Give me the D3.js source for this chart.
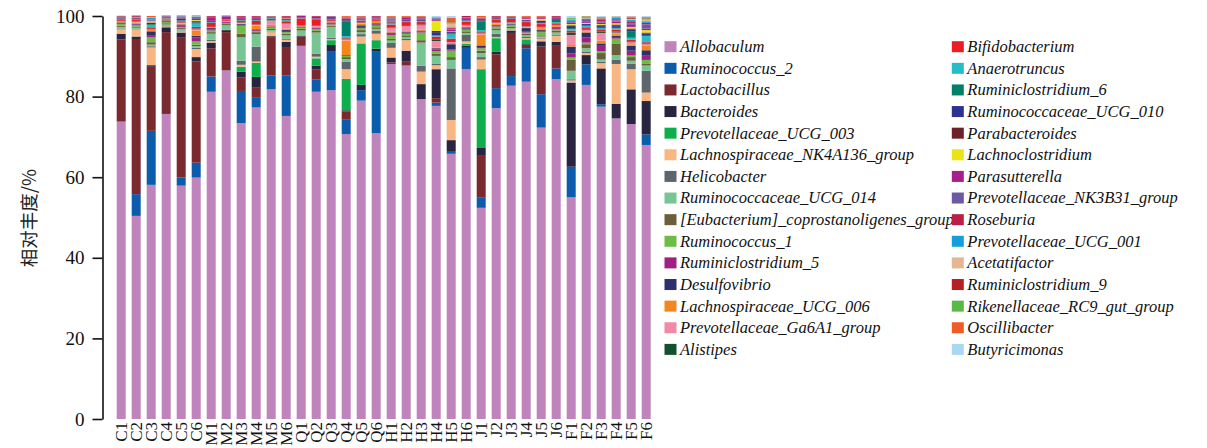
<!DOCTYPE html>
<html>
<head>
<meta charset="utf-8">
<script src="https://cdn.jsdelivr.net/npm/d3@7"></script>
<style>
  html, body { margin: 0; padding: 0; background: #fff; }
  svg { display: block; }
</style>
</head>
<body>
<svg id="chart" width="1207" height="448"></svg>
<script>
const samples = ["C1","C2","C3","C4","C5","C6","M1","M2","M3","M4","M5","M6",
  "Q1","Q2","Q3","Q4","Q5","Q6","H1","H2","H3","H4","H5","H6",
  "J1","J2","J3","J4","J5","J6","F1","F2","F3","F4","F5","F6"];

const taxa = ["Allobaculum","Ruminococcus_2","Lactobacillus","Bacteroides","Prevotellaceae_UCG_003",
  "Lachnospiraceae_NK4A136_group","Helicobacter","Ruminococcaceae_UCG_014",
  "[Eubacterium]_coprostanoligenes_group","Ruminococcus_1","Ruminiclostridium_5","Desulfovibrio",
  "Lachnospiraceae_UCG_006","Prevotellaceae_Ga6A1_group","Alistipes",
  "Bifidobacterium","Anaerotruncus","Ruminiclostridium_6","Ruminococcaceae_UCG_010","Parabacteroides",
  "Lachnoclostridium","Parasutterella","Prevotellaceae_NK3B31_group","Roseburia","Prevotellaceae_UCG_001",
  "Acetatifactor","Ruminiclostridium_9","Rikenellaceae_RC9_gut_group","Oscillibacter","Butyricimonas"];

const colors = ["#c084bc","#0b5cad","#7a2a2e","#29243f","#0eae4c",
  "#f8b683","#5e666c","#77c593","#6b5e3a","#6cbd45","#9f1f83","#2c316c",
  "#f4861f","#f189a9","#12502f",
  "#ec1c24","#27bcc9","#00806a","#2e3191","#6d2128",
  "#e8e513","#a81f8b","#6c58a5","#bc1e47","#139fd9",
  "#e6b594","#b42025","#58b947","#f05a24","#a9d8f2"];

// relative abundance (%) per sample, in the order of `taxa`
const abundance = [
  [73.8,0,20.4,1.4,0,1.1, 0.2,0.4,0.3,0.4,0.2,0.2,0.2,0.1,0.1, 0.4,0.1,0.1,0.1,0.1,0,0.1,0.1,0.1,0,0,0.1,0,0.05,0.05],
  [50.4,5.4,38.5,0.6,0,1.8, 0.1,0.3,0.3,0.3,0.2,0.2,0.3,0.2,0.1, 0.3,0.1,0.1,0.2,0.1,0.1,0.1,0.1,0.2,0,0,0.1,0,0,0],
  [58.1,13.4,15.9,0.4,0,4.4, 0.3,0.4,0.6,1.2,0.4,1.1,0.3,0.2,0.1, 0.4,0.6,0.2,0.3,0.1,0.3,0.2,0.2,0.1,0.3,0.1,0,0.1,0.3,0],
  [75.7,0,20.3,1.2,0,0.2, 0.1,0.4,0.3,0.3,0.2,0.2,0.1,0.1,0.1, 0.2,0.1,0.1,0.1,0.1,0,0.1,0.1,0.1,0,0,0,0,0,0],
  [57.9,2.0,34.7,1.3,0,0.3, 0.2,0.3,0.3,0.3,0.3,0.3,0.2,0.2,0.1, 0.3,0.1,0.1,0.4,0.1,0,0.2,0.2,0.1,0.1,0,0.1,0,0,0],
  [59.9,3.7,25.1,1.1,0,2.0, 0.3,0.4,0.4,0.8,1.0,0.4,1.3,0.3,0.2, 0.4,0.8,0.3,0.3,0.1,0.2,0.3,0.2,0.2,0.2,0.1,0.1,0,0,0],
  [81.2,3.8,7.0,1.4,0,0.4, 0.3,1.5,0.4,0.4,0.3,0.3,0.1,0.1,0.1, 1.0,0.1,0.1,0.2,0.1,0,0.9,0.1,0.2,0,0,0,0,0,0],
  [86.5,0,9.5,0.5,0,0.1, 0.1,1.0,0.3,0.3,0.2,0.1,0.1,0.1,0, 0.2,0.1,0,0.1,0,0,0.7,0.1,0.1,0,0,0,0,0,0],
  [73.4,8.0,3.3,1.5,1.2,0.5, 1.0,5.8,0.9,2.0,0.2,0.2,0.1,0.2,0.1, 0.4,0.1,0.1,0.2,0.1,0,0.4,0.1,0.2,0,0,0,0,0,0],
  [77.3,2.4,2.5,2.7,3.5,0.3, 3.7,3.1,0.5,0.3,0.2,0.2,0.9,0.2,0.1, 0.9,0.1,0.1,0.2,0.1,0,0.4,0.1,0.2,0,0,0,0,0,0],
  [81.8,3.4,9.4,0.4,0,1.0, 0.1,0.4,0.3,0.3,0.1,0.2,0.4,1.1,0.1, 0.3,0.1,0.1,0.1,0.1,0,0.1,0.1,0.1,0,0,0,0,0,0],
  [75.2,10.1,6.8,1.5,0,0.5, 0.3,0.8,0.4,0.4,0.3,0.3,0.3,1.2,0.1, 0.5,0.2,0.1,0.2,0.1,0.1,0.3,0.1,0.2,0,0,0,0,0,0],
  [92.6,0,2.3,0.2,0,0.1, 0.1,1.1,0.4,0.3,0.2,0.1,0.1,0.1,0, 1.8,0.1,0,0.1,0,0,0.4,0,0.1,0,0,0,0,0,0],
  [81.2,3.1,2.5,0.9,1.8,0.4, 0.7,5.3,0.4,0.5,0.2,0.1,0.2,0.2,0.1, 1.6,0.1,0,0.1,0,0,0.4,0,0.2,0,0,0,0,0,0],
  [81.6,9.7,0,1.5,1.2,0.3, 0.3,2.7,0.3,0.3,0.3,0.2,0.2,0.1,0.1, 0.4,0.1,0,0.2,0,0,0.3,0.1,0.1,0,0,0,0,0,0],
  [70.7,3.7,1.9,0.3,7.8,2.4, 1.9,0.6,0.5,0.3,0.2,0,3.6,0.3,0.2, 0.3,0.3,3.7,0.2,0.1,0,0.3,0.1,0.2,0.1,0,0.1,0,0.2,0],
  [79.0,2.6,0,1.3,10.3,1.7, 0.6,0.5,0.5,0.5,0.3,0.4,0.4,0.2,0.1, 0.5,0.1,0.1,0.2,0.1,0,0.2,0.1,0.2,0,0,0,0,0.1,0],
  [70.9,20.4,0,0.6,2.1,1.6, 0.8,0.4,0.4,0.4,0.3,0.3,0.3,0.2,0.1, 0.4,0.1,0,0.1,0,0,0.3,0.1,0.2,0,0,0,0,0,0],
  [88.1,0,0.4,1.2,0,2.4, 1.2,0.6,0.4,1.0,0.3,0.3,0.3,0.8,0.1, 0.8,0.2,0.1,0.2,0.1,0.1,0.3,0.2,0.3,0.1,0.1,0.2,0,0.2,0],
  [87.7,0,1.1,2.6,0,2.6, 0.3,0.5,0.4,0.4,0.3,0.2,0.2,1.2,0.2, 0.8,0.2,0.1,0.3,0.1,0,0.3,0.1,0.2,0,0,0,0,0.2,0],
  [79.4,0,0,3.7,0,3.1, 1.5,5.7,0.6,1.9,0.3,0.2,0.2,1.1,0.2, 0.6,0.2,0.1,0.2,0.1,0,0.3,0.1,0.2,0.1,0,0,0,0.2,0],
  [77.7,0.8,1.1,7.2,0,1.0, 0.3,2.0,0.6,0.6,0.4,0.3,0.2,1.6,0.3, 0.8,0.2,0.1,0.8,0.3,2.5,0.2,0.2,0.2,0.1,0.1,0.1,0,0,0.3],
  [65.8,0.7,0,2.7,0,5.0, 12.8,2.1,0.7,1.6,0.3,1.3,0.3,0.3,0.2, 0.6,1.0,0.3,0.3,0.1,0.1,0.4,0.2,0.2,0.2,1.0,0.2,0.1,1.0,0.5],
  [86.8,5.3,0,0.5,0.5,0.6, 1.6,0.5,0.4,0.4,0.3,0.3,0.2,0.3,0.1, 0.8,0.2,0.1,0.3,0.1,0,0.3,0.1,0.3,0,0,0,0,0,0],
  [52.4,2.5,10.4,2.1,19.4,2.4, 0.6,1.0,0.6,0.6,0.3,0.4,2.7,0.3,0.2, 0.3,0.3,2.2,0.2,0.1,0,0.3,0.1,0.2,0.1,0,0,0,0.3,0],
  [77.1,5.0,8.4,0.6,3.4,0.3, 0.8,0.9,0.4,0.5,0.2,0.2,0.3,0.2,0.1, 0.6,0.1,0.1,0.2,0.1,0,0.2,0.1,0.2,0,0,0,0,0,0],
  [82.7,2.4,10.7,0.6,0,0.2, 0.1,0.3,0.3,0.4,0.2,0.2,0.2,0.1,0.1, 0.8,0.1,0,0.1,0,0,0.2,0,0.2,0,0,0,0,0.1,0],
  [83.7,8.3,0.8,0.2,1.2,0.3, 0.3,0.4,0.4,0.3,0.2,0.9,0.2,0.2,0.1, 1.0,0.2,0.1,0.2,0.1,0.2,0.2,0.1,0.2,0,0,0,0,0.2,0],
  [72.3,8.3,11.8,1.2,0.2,0.6, 0.2,0.3,0.3,0.8,0.2,0.3,0.5,0.2,0.1, 0.7,0.2,0.1,0.5,0.1,0.4,0.2,0.1,0.2,0,0,0,0,0.2,0],
  [84.3,2.7,5.6,1.0,0,1.5, 0.2,0.6,0.5,0.4,0.3,0.2,0.2,0.2,0.1, 0.4,0.2,0.6,0.2,0.1,0,0.4,0.1,0.2,0,0,0,0,0,0],
  [55.0,7.6,0,20.9,0,0.5, 0.3,2.1,2.7,0.6,1.0,1.7,0.4,2.5,0.6, 0.5,0.3,0.3,0.5,0.2,0.3,0.4,0.2,0.2,0.3,0.1,0.1,0.2,0.1,0.4],
  [82.9,5.1,0,2.3,0,0.5, 0.4,0.8,1.0,0.4,1.3,1.2,0.3,0.4,0.2, 0.4,0.3,0.2,0.3,0.1,0.2,0.4,0.3,0.2,0.2,0.1,0.1,0.3,0.1,0],
  [77.5,0.6,0,8.9,0,1.3, 0.3,0.6,1.6,0.5,1.3,0.6,0.7,1.9,0.3, 0.6,0.3,0.3,0.3,0.2,0.2,0.4,0.3,0.3,0.3,0.1,0.1,0.2,0.1,0.2],
  [74.6,0,0,3.6,0,9.9, 1.1,1.1,2.9,1.2,0.4,0.3,0.5,0.3,0.2, 0.5,0.3,0.4,0.4,0.2,0.3,0.4,0.3,0.3,0.3,0.1,0.1,0.1,0.1,0.1],
  [73.2,0,0,8.6,0,5.0, 1.4,0.7,0.9,0.4,1.2,1.2,0.4,0.5,0.2, 0.4,0.5,1.5,0.5,0.3,0.4,0.5,0.4,0.3,0.5,0.3,0.2,0.2,0.2,0.1],
  [68.0,2.6,0,8.3,0,2.1, 5.4,1.3,0.4,1.0,1.2,1.2,1.2,0.3,0.2, 0.3,1.5,0.3,0.4,0.2,0.6,0.4,1.0,0.4,0.4,0.5,0.2,0.2,0.2,0.2]
];

const yTicks = [0, 20, 40, 60, 80, 100];
const yTitle = "相对丰度/%";

const svg = d3.select("#chart");
svg.append("rect").attr("width", 1207).attr("height", 448).attr("fill", "#fff");

const serif = "'Liberation Serif','Times New Roman',Times,serif";

const x = d3.scaleBand()
  .domain(samples)
  .range([113.7, 653.7])
  .paddingInner(0.4)
  .paddingOuter(0.2);

const y = d3.scaleLinear().domain([0, 100]).range([419, 16]);

const rows = samples.map((s, i) => {
  const o = { sample: s };
  taxa.forEach((t, j) => { o[t] = abundance[i][j]; });
  return o;
});
const series = d3.stack().keys(taxa)(rows);
const color = d3.scaleOrdinal().domain(taxa).range(colors);

svg.append("g")
  .selectAll("g")
  .data(series)
  .join("g")
  .attr("fill", d => color(d.key))
  .selectAll("rect")
  .data(d => d)
  .join("rect")
  .attr("x", d => x(d.data.sample))
  .attr("width", x.bandwidth())
  .attr("y", d => y(d[1]))
  .attr("height", d => Math.max(0, y(d[0]) - y(d[1])));

// y axis
const yAxis = svg.append("g")
  .attr("transform", "translate(102.5,0)")
  .call(d3.axisLeft(y).tickValues(yTicks).tickSize(10).tickSizeOuter(0).tickPadding(8));
yAxis.select(".domain").attr("stroke", "#111").attr("stroke-width", 1.6);
yAxis.selectAll(".tick line").attr("stroke", "#111").attr("stroke-width", 1.6);
yAxis.selectAll(".tick text")
  .attr("font-family", serif)
  .attr("font-size", 19)
  .attr("fill", "#111");

svg.append("text")
  .attr("transform", "translate(30,218) rotate(-90)")
  .attr("text-anchor", "middle")
  .attr("dy", "0.35em")
  .attr("font-family", "'Noto Sans CJK SC','Noto Sans',sans-serif")
  .attr("font-size", 18.5)
  .attr("fill", "#222")
  .text(yTitle);

// x labels (rotated)
svg.append("g")
  .selectAll("text")
  .data(samples)
  .join("text")
  .attr("transform", d => `translate(${x(d) + x.bandwidth() / 2},422) rotate(-90)`)
  .attr("text-anchor", "end")
  .attr("dy", "0.36em")
  .attr("font-family", serif)
  .attr("font-size", 17)
  .attr("fill", "#111")
  .text(d => d);

// legend
const perCol = 15;
const legend = svg.append("g")
  .selectAll("g")
  .data(taxa)
  .join("g")
  .attr("transform", (d, i) => {
    const col = Math.floor(i / perCol);
    const row = i % perCol;
    return `translate(${col === 0 ? 664.5 : 951.8},${46.7 + row * 21.62})`;
  });
legend.append("rect")
  .attr("x", 0).attr("y", -5.5)
  .attr("width", 12).attr("height", 11)
  .attr("fill", d => color(d));
legend.append("text")
  .attr("x", 15.5)
  .attr("dy", "0.33em")
  .attr("font-family", serif)
  .attr("font-style", "italic")
  .attr("font-size", 16.5)
  .attr("fill", "#111")
  .text(d => d);
</script>
</body>
</html>
